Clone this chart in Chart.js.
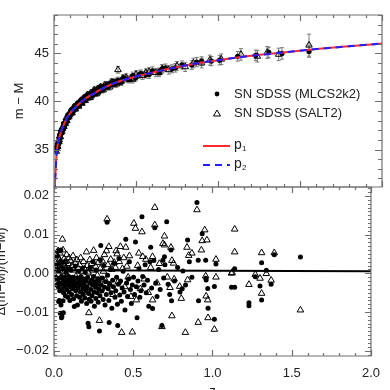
<!DOCTYPE html>
<html>
<head>
<meta charset="utf-8">
<script src="https://cdn.jsdelivr.net/npm/chart.js@4.4.1/dist/chart.umd.min.js"></script>
<style>
  html, body { margin: 0; padding: 0; background: #fff; overflow: hidden; width: 390px; height: 390px; }
  .box { position: absolute; left: 0; top: 0; }
</style>
</head>
<body>
<div class="box"><canvas id="resChart" width="390" height="400"></canvas></div>
<div class="box"><canvas id="muChart" width="390" height="400"></canvas></div>
<script>
// axis ticks
const xTicks = [0, 0.5, 1, 1.5, 2];
const muTicks = [35, 40, 45];
const resTicks = [-0.02, -0.01, 0, 0.01, 0.02];

// model curves (p1, p2)
const zCurve = [0.004, 0.006, 0.008, 0.01, 0.013, 0.016, 0.02, 0.025, 0.03, 0.04, 0.05, 0.065, 0.08, 0.1, 0.125, 0.15, 0.2, 0.25, 0.3, 0.4, 0.5, 0.6, 0.7, 0.8, 0.9, 1.0, 1.2, 1.4, 1.6, 1.8, 2.0];
const muP1 = [30.6, 31.5, 32.2, 32.8, 33.8, 34.6, 35.2, 35.7, 36.1, 36.7, 37.2, 37.8, 38.3, 38.8, 39.3, 39.7, 40.4, 40.9, 41.4, 42.1, 42.6, 43.0, 43.4, 43.75, 44.05, 44.3, 44.75, 45.1, 45.45, 45.75, 46.03];
const muP2 = [30.6, 31.5, 32.2, 32.8, 33.8, 34.6, 35.2, 35.7, 36.1, 36.7, 37.2, 37.8, 38.3, 38.8, 39.3, 39.7, 40.4, 40.9, 41.4, 42.1, 42.6, 43.0, 43.4, 43.75, 44.05, 44.3, 44.75, 45.1, 45.45, 45.75, 46.03];

// top panel: SN SDSS (MLCS2k2)
const zTopA = [0.016, 0.02, 0.024, 0.028, 0.032, 0.036, 0.04, 0.045, 0.05, 0.055,
  0.06, 0.065, 0.07, 0.075, 0.08, 0.09, 0.1, 0.11, 0.12, 0.13,
  0.14, 0.15, 0.16, 0.17, 0.18, 0.19, 0.2, 0.21, 0.22, 0.23,
  0.24, 0.25, 0.26, 0.27, 0.28, 0.29, 0.3, 0.32, 0.34, 0.36,
  0.38, 0.4, 0.42, 0.45, 0.48, 0.5, 0.53, 0.56, 0.6, 0.64,
  0.68, 0.72, 0.78, 0.84, 0.9, 0.96, 1.01, 1.12, 1.23, 1.31,
  1.39, 1.555,
  0.022, 0.034, 0.043, 0.058, 0.068, 0.085, 0.095, 0.105, 0.115, 0.125,
  0.135, 0.145, 0.155, 0.165, 0.175, 0.185, 0.195, 0.205, 0.215, 0.225,
  0.235, 0.245, 0.255, 0.265, 0.275, 0.285, 0.295, 0.31, 0.33, 0.35,
  0.37, 0.39, 0.41, 0.43, 0.46, 0.52, 0.58, 0.66, 0.74, 0.87];
const muTopA = [34.9, 35.2, 35.5, 35.6, 36.1, 36.2, 36.6, 36.7, 37.1, 37.2,
  37.5, 37.5, 37.9, 37.8, 38.2, 38.3, 38.8, 38.8, 39.3, 39.3,
  39.7, 39.6, 40.0, 39.9, 40.3, 40.2, 40.5, 40.4, 40.8, 40.7,
  41.0, 40.9, 41.2, 41.1, 41.4, 41.2, 41.5, 41.5, 41.8, 41.8,
  42.1, 42.0, 42.4, 42.3, 42.7, 42.5, 42.9, 42.8, 43.2, 43.1,
  43.5, 43.4, 43.8, 43.8, 44.2, 44.2, 44.3, 44.7, 44.8, 45.1,
  45.0, 45.2,
  35.2, 36.5, 36.7, 37.7, 37.7, 38.6, 38.5, 39.1, 38.9, 39.5,
  39.3, 39.8, 39.6, 40.1, 39.9, 40.4, 40.2, 40.6, 40.4, 40.8,
  40.6, 41.0, 40.8, 41.2, 41.0, 41.4, 41.2, 41.6, 41.5, 41.9,
  41.8, 42.2, 42.0, 42.4, 42.3, 42.8, 42.8, 43.4, 43.5, 44.1];
const errTopA = [0.12, 0.12, 0.14, 0.12, 0.14, 0.12, 0.15, 0.14, 0.15, 0.14,
  0.15, 0.16, 0.15, 0.16, 0.18, 0.16, 0.18, 0.2, 0.18, 0.2,
  0.2, 0.22, 0.2, 0.22, 0.24, 0.22, 0.24, 0.25, 0.24, 0.26,
  0.25, 0.26, 0.28, 0.26, 0.3, 0.28, 0.3, 0.3, 0.32, 0.3,
  0.34, 0.32, 0.35, 0.34, 0.36, 0.35, 0.38, 0.36, 0.4, 0.38,
  0.4, 0.42, 0.42, 0.45, 0.45, 0.48, 0.5, 0.5, 0.55, 0.55,
  0.6, 0.6,
  0.12, 0.14, 0.14, 0.15, 0.16, 0.17, 0.18, 0.18, 0.19, 0.2,
  0.2, 0.21, 0.21, 0.22, 0.22, 0.23, 0.23, 0.24, 0.24, 0.25,
  0.25, 0.26, 0.26, 0.27, 0.27, 0.28, 0.28, 0.29, 0.3, 0.31,
  0.32, 0.33, 0.34, 0.35, 0.36, 0.38, 0.4, 0.42, 0.44, 0.48];

// top panel: SN SDSS (SALT2)
const zTopB = [0.014, 0.018, 0.022, 0.026, 0.03, 0.035, 0.038, 0.043, 0.048, 0.053,
  0.058, 0.063, 0.068, 0.073, 0.078, 0.085, 0.095, 0.105, 0.115, 0.125,
  0.135, 0.145, 0.155, 0.165, 0.175, 0.185, 0.195, 0.205, 0.215, 0.225,
  0.235, 0.245, 0.255, 0.265, 0.275, 0.285, 0.295, 0.31, 0.33, 0.35,
  0.37, 0.39, 0.41, 0.44, 0.47, 0.5, 0.54, 0.58, 0.62, 0.66,
  0.7, 0.75, 0.8, 0.85, 0.9, 0.95, 1.02, 1.14, 1.24, 1.3,
  1.37, 1.555,
  0.02, 0.032, 0.045, 0.06, 0.075, 0.09, 0.1, 0.11, 0.12, 0.13,
  0.14, 0.15, 0.16, 0.17, 0.18, 0.19, 0.2, 0.22, 0.24, 0.26,
  0.28, 0.3, 0.32, 0.34, 0.36, 0.38, 0.42, 0.48, 0.56, 0.64];
const muTopB = [34.8, 35.4, 35.3, 35.8, 35.8, 36.4, 36.3, 36.8, 36.9, 37.2,
  37.4, 37.7, 37.7, 38.0, 38.0, 38.4, 38.6, 38.9, 39.1, 39.3,
  39.6, 39.7, 39.9, 40.1, 40.1, 40.4, 40.4, 40.7, 40.6, 40.9,
  40.9, 41.2, 41.1, 41.3, 41.3, 41.5, 41.4, 41.7, 41.7, 42.0,
  41.9, 43.3, 42.1, 42.5, 42.4, 42.8, 42.7, 43.1, 43.0, 43.4,
  43.3, 43.7, 43.6, 44.0, 44.0, 44.3, 44.4, 44.9, 44.7, 45.1,
  44.9, 45.86,
  35.4, 36.0, 37.1, 37.4, 38.3, 38.4, 39.0, 38.8, 39.4, 39.2,
  39.7, 39.5, 40.0, 39.8, 40.3, 40.1, 40.6, 40.4, 41.0, 40.8,
  41.4, 41.2, 41.7, 41.5, 42.0, 41.8, 42.4, 42.3, 43.0, 43.0];
const errTopB = [0.12, 0.13, 0.12, 0.14, 0.13, 0.14, 0.15, 0.14, 0.16, 0.15,
  0.16, 0.15, 0.17, 0.16, 0.18, 0.18, 0.19, 0.2, 0.2, 0.21,
  0.22, 0.22, 0.23, 0.24, 0.24, 0.25, 0.25, 0.26, 0.26, 0.27,
  0.27, 0.28, 0.28, 0.29, 0.3, 0.3, 0.31, 0.32, 0.33, 0.34,
  0.35, 0.35, 0.36, 0.37, 0.38, 0.4, 0.4, 0.42, 0.42, 0.44,
  0.45, 0.46, 0.48, 0.5, 0.5, 0.52, 0.55, 0.6, 0.6, 0.62,
  0.65, 1.15,
  0.12, 0.14, 0.15, 0.16, 0.17, 0.18, 0.18, 0.19, 0.2, 0.2,
  0.21, 0.21, 0.22, 0.22, 0.23, 0.23, 0.24, 0.25, 0.26, 0.27,
  0.28, 0.29, 0.3, 0.31, 0.32, 0.33, 0.35, 0.37, 0.4, 0.42];

// bottom panel residuals: SN SDSS (MLCS2k2)
const zResA = [0.012, 0.015, 0.018, 0.020, 0.022, 0.024, 0.026, 0.027, 0.029, 0.030,
  0.031, 0.033, 0.034, 0.036, 0.038, 0.040, 0.042, 0.043, 0.044, 0.046,
  0.047, 0.049, 0.050, 0.052, 0.054, 0.056, 0.057, 0.059, 0.060, 0.062,
  0.065, 0.067, 0.070, 0.072, 0.075, 0.077, 0.080, 0.082, 0.085, 0.087,
  0.090, 0.093, 0.095, 0.098, 0.100, 0.103, 0.106, 0.108, 0.111, 0.114,
  0.117, 0.120, 0.123, 0.126, 0.128, 0.131, 0.134, 0.137, 0.140, 0.143,
  0.146, 0.148, 0.152, 0.155, 0.158, 0.161, 0.164, 0.167, 0.170, 0.173,
  0.176, 0.179, 0.182, 0.185, 0.188, 0.191, 0.194, 0.197, 0.200, 0.203,
  0.206, 0.209, 0.212, 0.215, 0.218, 0.220, 0.222, 0.225, 0.228, 0.231,
  0.234, 0.237, 0.240, 0.243, 0.246, 0.249, 0.252, 0.255, 0.258, 0.261,
  0.264, 0.267, 0.270, 0.273, 0.276, 0.279, 0.282, 0.285, 0.287, 0.290,
  0.293, 0.295, 0.298, 0.302, 0.306, 0.310, 0.314, 0.318, 0.322, 0.326,
  0.330, 0.335, 0.338, 0.342, 0.346, 0.348, 0.352, 0.356, 0.360, 0.365,
  0.370, 0.375, 0.380, 0.385, 0.390, 0.395, 0.400, 0.402, 0.406, 0.410,
  0.415, 0.420, 0.425, 0.430, 0.436, 0.442, 0.448, 0.453, 0.458, 0.464,
  0.470, 0.476, 0.482, 0.488, 0.494, 0.502, 0.508, 0.514, 0.520, 0.524,
  0.530, 0.536, 0.542, 0.548, 0.555, 0.560, 0.568, 0.575, 0.582, 0.590,
  0.598, 0.605, 0.610, 0.616, 0.622, 0.630, 0.636, 0.642, 0.650, 0.660,
  0.670, 0.681, 0.687, 0.692, 0.697, 0.700, 0.711, 0.720, 0.730, 0.738,
  0.742, 0.760, 0.780, 0.795, 0.809, 0.813, 0.830, 0.843, 0.854, 0.870,
  0.902, 0.910, 0.912, 0.935, 0.957, 0.958, 0.960, 0.970, 0.972, 1.012,
  1.012, 1.022, 1.120, 1.140, 1.140, 1.230, 1.230, 1.270, 1.300, 1.310,
  1.310, 1.340, 1.370, 1.390, 1.555];
const resA = [-0.0010, 0.0020, -0.0030, 0.0045, -0.0018, 0.0010, 0.0058, -0.0035, -0.0073, 0.0004,
  -0.0025, -0.0070, 0.0025, -0.0045, -0.0012, -0.0103, 0.0032, 0.0060, -0.0082, -0.0028,
  -0.0115, -0.0008, -0.0112, -0.0040, 0.0015, -0.0022, -0.0071, -0.0102, -0.0050, -0.0015,
  0.0030, -0.0032, -0.0010, -0.0058, 0.0002, -0.0025, -0.0042, -0.0018, 0.0012, -0.0062,
  -0.0030, -0.0008, -0.0048, -0.0022, -0.0070, -0.0035, 0.0008, -0.0015, -0.0055, -0.0028,
  -0.0040, -0.0010, -0.0066, -0.0020, -0.0086, -0.0032, 0.0018, -0.0045, -0.0012, -0.0058,
  -0.0026, -0.0082, -0.0038, 0.0005, -0.0018, -0.0062, -0.0030, -0.0048, -0.0008, -0.0072,
  -0.0022, 0.0012, -0.0040, -0.0055, -0.0015, -0.0030, -0.0064, 0.0002, -0.0044, -0.0020,
  -0.0078, -0.0035, -0.0010, -0.0129, -0.0052, -0.0138, -0.0067, -0.0025, 0.0015, -0.0042,
  -0.0072, -0.0018, -0.0058, -0.0030, 0.0030, -0.0008, -0.0048, -0.0085, -0.0022, -0.0036,
  -0.0065, 0.0008, -0.0028, -0.0050, -0.0014, -0.0075, -0.0040, -0.0020, -0.0149, -0.0058,
  0.0035, 0.0072, -0.0030, -0.0046, -0.0012, -0.0068, 0.0020, -0.0036, -0.0082, -0.0022,
  -0.0055, 0.0132, -0.0005, -0.0040, -0.0070, -0.0127, -0.0028, 0.0010, -0.0050, -0.0090,
  -0.0018, -0.0035, 0.0025, -0.0062, -0.0045, -0.0010, -0.0080, -0.0135, -0.0028, 0.0038,
  -0.0056, -0.0020, -0.0072, -0.0038, 0.0005, -0.0048, -0.0095, 0.0088, -0.0025, -0.0060,
  -0.0015, 0.0030, -0.0042, -0.0078, -0.0030, -0.0010, -0.0055, 0.0081, -0.0035, -0.0115,
  -0.0020, 0.0012, -0.0062, -0.0045, 0.0146, -0.0008, -0.0030, 0.0022, -0.0050, -0.0018,
  -0.0085, 0.0030, 0.0067, -0.0038, -0.0091, 0.0033, 0.0118, -0.0025, -0.0060, 0.0010,
  -0.0042, -0.0135, 0.0034, -0.0012, 0.0043, 0.0022, 0.0133, -0.0028, -0.0055, 0.0060,
  -0.0071, -0.0020, 0.0015, -0.0048, -0.0040, 0.0006, -0.0030, 0.0086, 0.0030, -0.0010,
  0.0183, 0.0034, -0.0071, 0.0102, 0.0034, -0.0013, -0.0017, -0.0039, -0.0090, -0.0034,
  -0.0119, 0.0024, -0.0036, -0.0036, 0.0012, -0.0076, -0.0084, -0.0009, -0.0033, 0.0027,
  -0.0069, 0.0008, -0.0028, 0.0048, 0.0042];

// bottom panel residuals: SN SDSS (SALT2)
const zResB = [0.014, 0.018, 0.022, 0.026, 0.027, 0.030, 0.033, 0.037, 0.040, 0.044,
  0.048, 0.053, 0.057, 0.060, 0.064, 0.068, 0.072, 0.076, 0.080, 0.085,
  0.090, 0.095, 0.100, 0.105, 0.110, 0.115, 0.120, 0.126, 0.132, 0.138,
  0.144, 0.150, 0.156, 0.162, 0.168, 0.174, 0.180, 0.186, 0.192, 0.198,
  0.205, 0.210, 0.215, 0.220, 0.226, 0.232, 0.238, 0.244, 0.250, 0.256,
  0.262, 0.268, 0.274, 0.280, 0.287, 0.292, 0.298, 0.305, 0.312, 0.318,
  0.325, 0.331, 0.335, 0.340, 0.346, 0.352, 0.358, 0.365, 0.372, 0.380,
  0.388, 0.392, 0.398, 0.405, 0.412, 0.419, 0.427, 0.432, 0.440, 0.447,
  0.453, 0.460, 0.468, 0.476, 0.485, 0.494, 0.504, 0.514, 0.520, 0.528,
  0.535, 0.545, 0.555, 0.560, 0.570, 0.580, 0.595, 0.610, 0.622, 0.622,
  0.636, 0.636, 0.650, 0.665, 0.681, 0.687, 0.697, 0.697, 0.715, 0.732,
  0.738, 0.744, 0.744, 0.754, 0.758, 0.793, 0.803, 0.829, 0.839, 0.843,
  0.850, 0.870, 0.902, 0.910, 0.930, 0.935, 0.951, 0.957, 0.960, 0.965,
  0.970, 0.972, 1.012, 1.022, 1.022, 1.120, 1.124, 1.140, 1.140, 1.230,
  1.270, 1.300, 1.310, 1.310, 1.340, 1.370, 1.390, 1.555];
const resB = [0.0030, 0.0008, 0.0045, 0.0058, -0.0004, 0.0020, 0.0035, 0.0052, 0.0012, 0.0028,
  -0.0010, 0.0088, 0.0060, 0.0022, 0.0038, 0.0005, 0.0030, 0.0015, 0.0048, -0.0005,
  0.0025, 0.0040, 0.0010, 0.0032, -0.0015, 0.0020, 0.0045, 0.0008, 0.0028, -0.0008,
  0.0035, 0.0015, -0.0030, 0.0022, 0.0040, 0.0005, -0.0020, 0.0030, 0.0012, -0.0045,
  0.0055, 0.0020, 0.0003, -0.0102, 0.0035, -0.0012, 0.0025, 0.0008, 0.0059, -0.0028,
  0.0018, 0.0040, -0.0005, 0.0028, -0.0122, 0.0012, -0.0040, 0.0032, 0.0005, 0.0048,
  -0.0018, 0.0058, 0.0140, 0.0022, 0.0069, -0.0030, 0.0036, 0.0010, -0.0055, 0.0028,
  0.0015, 0.0058, 0.0050, -0.0022, 0.0030, 0.0069, -0.0153, 0.0012, 0.0040, -0.0035,
  0.0067, 0.0018, -0.0010, 0.0045, -0.0060, -0.0152, 0.0129, 0.0116, -0.0069, 0.0020,
  0.0052, -0.0040, 0.0107, 0.0043, -0.0015, 0.0036, -0.0050, 0.0015, 0.0043, -0.0069,
  0.0170, 0.0125, -0.0025, 0.0025, -0.0138, 0.0077, 0.0096, 0.0073, -0.0010, -0.0037,
  0.0067, -0.0110, 0.0033, 0.0026, -0.0015, -0.0034, -0.0065, -0.0153, 0.0067, -0.0017,
  0.0046, 0.0052, 0.0164, -0.0127, 0.0060, 0.0084, 0.0112, -0.0007, -0.0059, 0.0086,
  -0.0069, -0.0115, -0.0145, 0.0036, -0.0010, 0.0000, 0.0002, 0.0114, 0.0055, -0.0029,
  -0.0003, -0.0013, 0.0053, -0.0052, -0.0001, -0.0018, 0.0053, -0.0095];

// reference line in the residual panel
const zLine = [0, 2];
const resLine = [0.0008, 0.0005];

const FONT = "'Liberation Sans', Arial, sans-serif";
Chart.defaults.font.family = FONT;
Chart.defaults.font.size = 13;
Chart.defaults.color = '#222';

const pts = (xs, ys) => xs.map((x, i) => ({ x: x, y: ys[i] }));

// inward IDL style ticks on all four sides plus the frame
function frameTicks(cfg) {
  return {
    id: 'frame' + cfg.name,
    afterDraw(chart) {
      const { ctx, chartArea: a, scales } = chart;
      const xs = scales.x, ys = scales.y;
      ctx.save();
      ctx.strokeStyle = '#707070';
      ctx.lineWidth = 1.2;
      ctx.beginPath();
      ctx.rect(a.left, a.top, a.right - a.left, a.bottom - a.top);
      for (let i = 0; i <= 20; i++) {
        const px = Math.round(xs.getPixelForValue(i * 0.1)) + 0.5;
        const len = i % 5 === 0 ? cfg.xMajor : cfg.xMinor;
        ctx.moveTo(px, a.top); ctx.lineTo(px, a.top + len);
        ctx.moveTo(px, a.bottom); ctx.lineTo(px, a.bottom - len);
      }
      for (let i = cfg.yFrom; i <= cfg.yTo; i++) {
        const py = Math.round(ys.getPixelForValue(i * cfg.yStep)) + 0.5;
        const len = i % cfg.yEvery === 0 ? cfg.yMajor : cfg.yMinor;
        ctx.moveTo(a.left, py); ctx.lineTo(a.left + len, py);
        ctx.moveTo(a.right, py); ctx.lineTo(a.right - len, py);
      }
      ctx.stroke();
      ctx.restore();
    }
  };
}

// vertical error bars on the top panel points
const errorBars = {
  id: 'errorBars',
  beforeDatasetsDraw(chart) {
    const { ctx, scales } = chart;
    ctx.save();
    ctx.strokeStyle = '#7a7a7a';
    ctx.lineWidth = 1;
    ctx.beginPath();
    [[zTopA, muTopA, errTopA], [zTopB, muTopB, errTopB]].forEach(([zs, ms, es]) => {
      zs.forEach((z, i) => {
        const px = scales.x.getPixelForValue(z);
        const y1 = scales.y.getPixelForValue(ms[i] + es[i]);
        const y2 = scales.y.getPixelForValue(ms[i] - es[i]);
        ctx.moveTo(px, y1); ctx.lineTo(px, y2);
        ctx.moveTo(px - 2, y1); ctx.lineTo(px + 2, y1);
        ctx.moveTo(px - 2, y2); ctx.lineTo(px + 2, y2);
      });
    });
    ctx.stroke();
    ctx.restore();
  }
};

// legend in the top panel
const legendBox = {
  id: 'legendBox',
  afterDraw(chart) {
    const ctx = chart.ctx;
    const ds = chart.data.datasets;
    ctx.save();
    ctx.font = '13px ' + FONT;
    ctx.fillStyle = '#222';
    ctx.textBaseline = 'middle';
    ctx.fillText(ds[2].label, 234, 94);
    ctx.fillText(ds[3].label, 234, 113);
    ctx.fillStyle = '#000';
    ctx.beginPath(); ctx.arc(217, 94, 2.4, 0, Math.PI * 2); ctx.fill();
    ctx.strokeStyle = '#000'; ctx.lineWidth = 1;
    ctx.beginPath(); ctx.moveTo(217, 110); ctx.lineTo(220.5, 116); ctx.lineTo(213.5, 116); ctx.closePath(); ctx.stroke();
    ctx.lineWidth = 2;
    ctx.strokeStyle = ds[0].borderColor;
    ctx.beginPath(); ctx.moveTo(203, 146); ctx.lineTo(230, 146); ctx.stroke();
    ctx.strokeStyle = ds[1].borderColor;
    ctx.setLineDash([7, 5]);
    ctx.beginPath(); ctx.moveTo(203, 165); ctx.lineTo(230, 165); ctx.stroke();
    ctx.setLineDash([]);
    ctx.fillStyle = '#222';
    [[ds[0].label, 146], [ds[1].label, 165]].forEach(([lab, y]) => {
      ctx.font = '14px ' + FONT;
      ctx.fillText(lab[0], 234, y - 1);
      ctx.font = '8px ' + FONT;
      ctx.fillText(lab.slice(1), 242, y + 3);
    });
    ctx.restore();
  }
};

new Chart(document.getElementById('muChart'), {
  type: 'scatter',
  data: {
    datasets: [
      { label: 'p1', data: pts(zCurve, muP1), showLine: true, borderColor: '#ff2a2a', borderWidth: 2,
        pointRadius: 0, cubicInterpolationMode: 'monotone', order: 1, clip: 0 },
      { label: 'p2', data: pts(zCurve, muP2), showLine: true, borderColor: '#1f1fff', borderWidth: 2,
        borderDash: [7, 5], pointRadius: 0, cubicInterpolationMode: 'monotone', order: 0, clip: 0 },
      { label: 'SN SDSS (MLCS2k2)', data: pts(zTopA, muTopA), pointStyle: 'circle', pointRadius: 2.6,
        backgroundColor: '#000', borderColor: '#000', borderWidth: 0, order: 2 },
      { label: 'SN SDSS (SALT2)', data: pts(zTopB, muTopB), pointStyle: 'triangle', pointRadius: 3.8,
        backgroundColor: 'rgba(0,0,0,0)', borderColor: '#000', borderWidth: 1, order: 3 }
    ]
  },
  options: {
    responsive: false,
    animation: false,
    events: [],
    layout: { padding: { top: 15, right: 8, bottom: 213, left: 0 } },
    plugins: { legend: { display: false }, tooltip: { enabled: false } },
    scales: {
      x: { type: 'linear', min: 0, max: 2, display: false },
      y: {
        type: 'linear', min: 31.1, max: 49,
        afterFit: s => { s.width = 54; },
        afterBuildTicks: s => { s.ticks = muTicks.map(v => ({ value: v })); },
        grid: { display: false, drawTicks: false },
        border: { display: false },
        ticks: { padding: 5, color: '#222' },
        title: { display: true, text: 'm − M', padding: { top: 12, bottom: 0 }, color: '#222' }
      }
    }
  },
  plugins: [errorBars, legendBox,
    frameTicks({ name: 'Top', xMajor: 6, xMinor: 3, yFrom: 32, yTo: 49, yStep: 1, yEvery: 5, yMajor: 7, yMinor: 4 })]
});

new Chart(document.getElementById('resChart'), {
  type: 'scatter',
  data: {
    datasets: [
      { label: 'line', data: pts(zLine, resLine), showLine: true, borderColor: '#000', borderWidth: 2,
        pointRadius: 0, order: 0 },
      { label: 'SN SDSS (MLCS2k2)', data: pts(zResA, resA), pointStyle: 'circle', pointRadius: 2.5,
        backgroundColor: '#000', borderColor: '#000', borderWidth: 0, order: 1 },
      { label: 'SN SDSS (SALT2)', data: pts(zResB, resB), pointStyle: 'triangle', pointRadius: 3.8,
        backgroundColor: 'rgba(0,0,0,0)', borderColor: '#000', borderWidth: 1, order: 2 }
    ]
  },
  options: {
    responsive: false,
    animation: false,
    events: [],
    layout: { padding: { top: 187, right: 8, bottom: 0, left: 0 } },
    plugins: { legend: { display: false }, tooltip: { enabled: false } },
    scales: {
      x: {
        type: 'linear', min: 0, max: 2,
        afterFit: s => { s.height = 44; },
        afterBuildTicks: s => { s.ticks = xTicks.map(v => ({ value: v })); },
        grid: { display: false, drawTicks: false },
        border: { display: false },
        ticks: { padding: 10, color: '#222', callback: v => v.toFixed(1) },
        title: { display: true, text: 'z', padding: { top: 0, bottom: 1 }, color: '#222' }
      },
      y: {
        type: 'linear', min: -0.02137, max: 0.0223,
        afterFit: s => { s.width = 54; },
        afterBuildTicks: s => { s.ticks = resTicks.map(v => ({ value: v })); },
        grid: { display: false, drawTicks: false },
        border: { display: false },
        ticks: { padding: 5, color: '#222', callback: v => v.toFixed(2).replace('-', '−') },
        title: { display: true, text: 'Δ(m−M)/(m−M)', padding: { top: -6, bottom: 0 }, color: '#222' }
      }
    }
  },
  plugins: [frameTicks({ name: 'Bot', xMajor: 6, xMinor: 3, yFrom: -21, yTo: 22, yStep: 0.001, yEvery: 10, yMajor: 6, yMinor: 3 })]
});
</script>
</body>
</html>
